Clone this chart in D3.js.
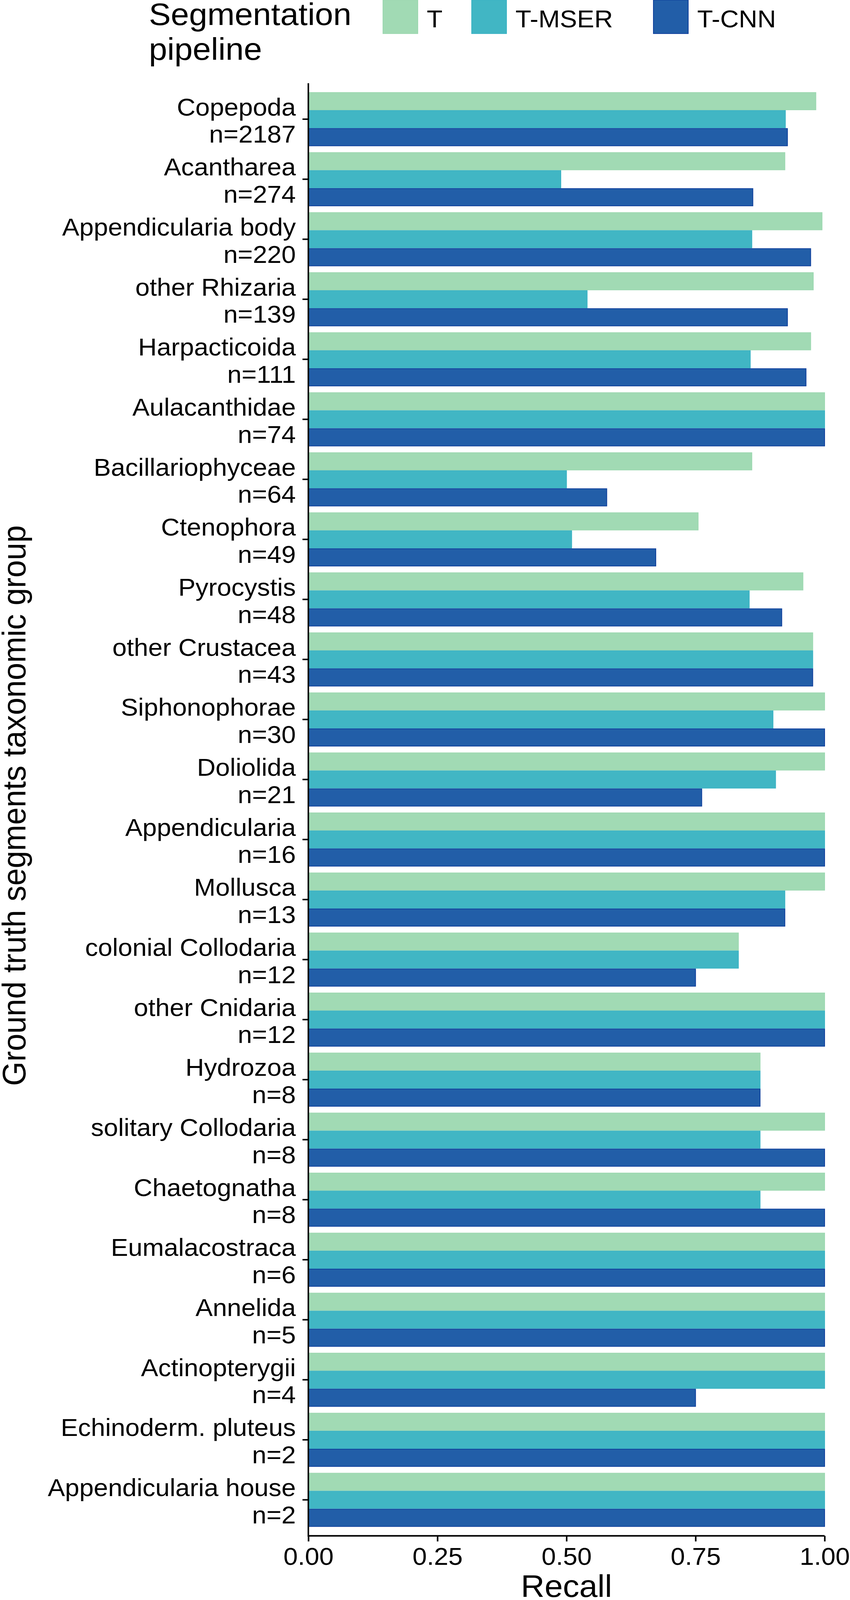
<!DOCTYPE html>
<html>
<head>
<meta charset="utf-8">
<script src="https://cdn.jsdelivr.net/npm/d3@7"></script>
<style>
  html, body { margin: 0; padding: 0; background: #fff; overflow: hidden; }
  #chart { display: block; width: 100vw; height: 100vh; }
  svg text { font-family: "Liberation Sans", Arial, Helvetica, sans-serif; fill: #000; }
</style>
</head>
<body>
<svg id="chart" viewBox="0 0 2175 4290" preserveAspectRatio="none"></svg>
<script>
// taxonomic groups, top to bottom
const groups = ["Copepoda", "Acantharea", "Appendicularia body", "other Rhizaria", "Harpacticoida",
  "Aulacanthidae", "Bacillariophyceae", "Ctenophora", "Pyrocystis", "other Crustacea",
  "Siphonophorae", "Doliolida", "Appendicularia", "Mollusca", "colonial Collodaria",
  "other Cnidaria", "Hydrozoa", "solitary Collodaria", "Chaetognatha", "Eumalacostraca",
  "Annelida", "Actinopterygii", "Echinoderm. pluteus", "Appendicularia house"];
const counts = [2187, 274, 220, 139, 111, 74, 64, 49, 48, 43, 30, 21, 16, 13, 12, 12, 8, 8, 8, 6, 5, 4, 2, 2];

const pipelines = ["T", "T-MSER", "T-CNN"];
const recallT    = [0.983, 0.923, 0.995, 0.978, 0.973, 1, 0.859, 0.755, 0.958, 0.977, 1, 1, 1, 1, 0.833, 1, 0.875, 1, 1, 1, 1, 1, 1, 1];
const recallMSER = [0.924, 0.489, 0.859, 0.540, 0.856, 1, 0.500, 0.510, 0.854, 0.977, 0.900, 0.905, 1, 0.923, 0.833, 1, 0.875, 0.875, 0.875, 1, 1, 1, 1, 1];
const recallCNN  = [0.928, 0.861, 0.973, 0.928, 0.964, 1, 0.578, 0.673, 0.917, 0.977, 1, 0.762, 1, 0.923, 0.750, 1, 0.875, 1, 1, 1, 1, 0.750, 1, 1];
const xTicks = [0, 0.25, 0.5, 0.75, 1];

const fills   = ["#a1dab4", "#41b6c4", "#225ea8"];
const strokes = ["#9dd8b1", "#3cb3c4", "#0f3f9c"];

const series = [recallT, recallMSER, recallCNN];
const rows = [];
groups.forEach((g, i) => {
  pipelines.forEach((p, j) => rows.push({ group: g, pipe: p, value: series[j][i] }));
});

const svg = d3.select("#chart");
const plotLeft = 789, plotRight = 2110, plotTop = 223, plotBottom = 4118;

const x = d3.scaleLinear().domain([0, 1]).range([plotLeft, plotRight]);
const y = d3.scaleBand().domain(groups).range([plotTop, plotBottom]).paddingInner(0.1).paddingOuter(0.15);
const ySub = d3.scaleBand().domain(pipelines).range([0, y.bandwidth()]);
const colour = d3.scaleOrdinal().domain(pipelines).range(fills);
const edge = d3.scaleOrdinal().domain(pipelines).range(strokes);

// bars
svg.append("g").selectAll("rect")
  .data(rows)
  .join("rect")
  .attr("x", x(0))
  .attr("y", d => y(d.group) + ySub(d.pipe) + 1)
  .attr("width", d => x(d.value) - x(0))
  .attr("height", ySub.bandwidth() - 2)
  .attr("fill", d => colour(d.pipe))
  .attr("stroke", d => edge(d.pipe))
  .attr("stroke-width", 2);

// x axis
const xAxis = svg.append("g")
  .attr("transform", `translate(0,${plotBottom})`)
  .call(d3.axisBottom(x).tickValues(xTicks).tickFormat(d3.format(".2f")).tickSize(15).tickPadding(0));
xAxis.select(".domain").remove();
xAxis.selectAll(".tick line").attr("stroke", "#000").attr("stroke-width", 4);
xAxis.selectAll(".tick text")
  .attr("y", 78).attr("dy", null)
  .style("font-size", "66px");
svg.append("line")
  .attr("x1", plotLeft - 2).attr("x2", plotRight)
  .attr("y1", plotBottom).attr("y2", plotBottom)
  .attr("stroke", "#000").attr("stroke-width", 4);

// y axis
const yAxis = svg.append("g")
  .attr("transform", `translate(${plotLeft},0)`)
  .call(d3.axisLeft(y).tickSize(15).tickPadding(0));
yAxis.select(".domain").remove();
yAxis.selectAll(".tick line").attr("stroke", "#000").attr("stroke-width", 4);
yAxis.selectAll(".tick text").remove();
yAxis.selectAll(".tick").each(function (g) {
  const i = groups.indexOf(g);
  const t = d3.select(this).append("text")
    .attr("text-anchor", "end")
    .style("font-size", "66px");
  t.append("tspan").attr("x", -32).attr("y", -10).text(g);
  t.append("tspan").attr("x", -32).attr("y", 63).text("n=" + counts[i]);
});
svg.append("line")
  .attr("x1", plotLeft).attr("x2", plotLeft)
  .attr("y1", plotTop).attr("y2", plotBottom + 2)
  .attr("stroke", "#000").attr("stroke-width", 4);

// axis titles
svg.append("text")
  .attr("x", (plotLeft + plotRight) / 2).attr("y", 4282)
  .attr("text-anchor", "middle")
  .style("font-size", "84px")
  .text("Recall");
svg.append("text")
  .attr("transform", "translate(65,2160) rotate(-90)")
  .attr("text-anchor", "middle")
  .style("font-size", "84px")
  .text("Ground truth segments taxonomic group");

// legend
const legend = svg.append("g");
legend.append("text").attr("x", 381).attr("y", 67).style("font-size", "84px").text("Segmentation");
legend.append("text").attr("x", 381).attr("y", 160).style("font-size", "84px").text("pipeline");
const keyX = [980, 1207, 1672];
const item = legend.selectAll("g.key")
  .data(pipelines)
  .join("g")
  .attr("class", "key")
  .attr("transform", (d, i) => `translate(${keyX[i]},0)`);
item.append("rect")
  .attr("x", 0).attr("y", 0)
  .attr("width", 89).attr("height", 90)
  .attr("fill", d => colour(d))
  .attr("stroke", d => edge(d)).attr("stroke-width", 2);
item.append("text")
  .attr("x", 112).attr("y", 73)
  .style("font-size", "66px")
  .text(d => d);
</script>
</body>
</html>
